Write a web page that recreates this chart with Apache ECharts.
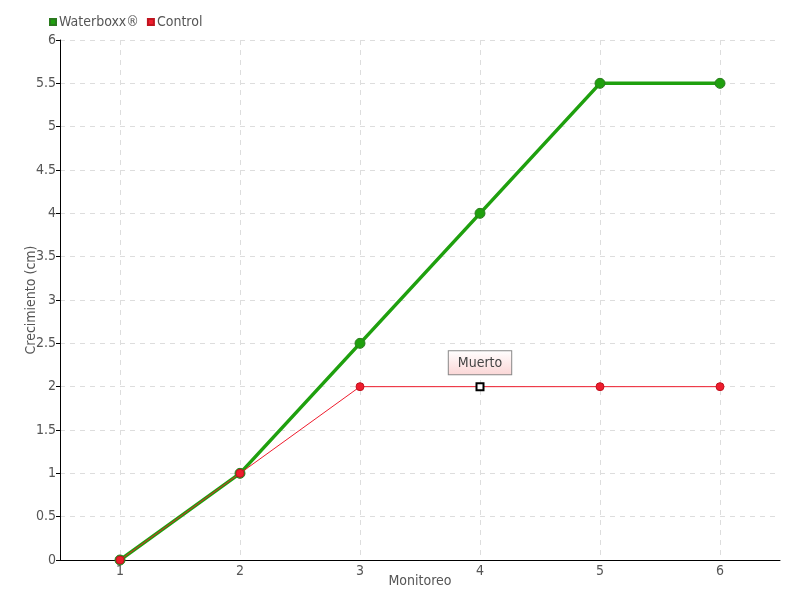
<!DOCTYPE html>
<html><head><meta charset="utf-8">
<script src="https://cdn.jsdelivr.net/npm/echarts@6/dist/echarts.min.js"></script>
<style>html,body{margin:0;padding:0;background:#fff}#c{width:800px;height:600px}</style>
</head><body><div id="c"></div>
<script>
const categories = ['1','2','3','4','5','6'];
const waterboxx = [0, 1, 2.5, 4, 5.5, 5.5];
const control = [0, 1, 2, 2, 2, 2];
const controlNoteIndex = 3;
const controlNote = 'Muerto';

const FONT = '"DejaVu Sans Condensed", "Liberation Sans Narrow", sans-serif';
const chart = echarts.init(document.getElementById('c'));
const controlData = control.map((v, i) => {
  if (i !== controlNoteIndex) return v;
  return {
    value: v,
    symbol: 'rect',
    symbolSize: 7,
    itemStyle: { color: '#ffffff', borderColor: '#000000', borderWidth: 2 },
    label: {
      show: true, position: 'top', distance: 8, formatter: controlNote,
      color: '#444', fontFamily: FONT, fontSize: 14,
      padding: [5, 9, 4, 9],
      borderColor: '#888', borderWidth: 1,
      backgroundColor: new echarts.graphic.LinearGradient(0, 0, 0, 1, [
        { offset: 0, color: '#ffffff' }, { offset: 1, color: '#fbd6d6' }])
    }
  };
});
chart.setOption({
  animation: false,
  textStyle: { fontFamily: FONT },
  legend: {
    left: 44, top: 10, itemWidth: 6, itemHeight: 6, itemGap: 8,
    icon: 'rect',
    textStyle: { fontFamily: FONT, fontSize: 14, color: '#555', padding: [0, 0, 0, -2] },
    data: ['Waterboxx®', 'Control']
  },
  grid: { left: 60, right: 20, top: 40, bottom: 40, containLabel: false, outerBoundsMode: 'none' },
  xAxis: {
    type: 'category', data: categories, boundaryGap: true,
    name: 'Monitoreo', nameLocation: 'middle', nameGap: 14, nameMoveOverlap: false,
    nameTextStyle: { fontFamily: FONT, fontSize: 14, color: '#555' },
    axisLine: { lineStyle: { color: '#000', width: 1 } },
    axisTick: { show: false, alignWithLabel: true },
    axisLabel: { color: '#555', fontSize: 14, fontFamily: FONT, margin: 4 },
    splitLine: { show: true, interval: 0, alignWithLabel: true, lineStyle: { color: '#ddd', type: [5, 5] } }
  },
  yAxis: {
    type: 'value', min: 0, max: 6, interval: 0.5,
    name: 'Crecimiento (cm)', nameLocation: 'middle', nameGap: 22, nameMoveOverlap: false,
    nameTextStyle: { fontFamily: FONT, fontSize: 14, color: '#555' },
    axisLine: { show: true, lineStyle: { color: '#000', width: 1 } },
    axisTick: { show: true, length: 4, lineStyle: { color: '#000' } },
    axisLabel: { color: '#555', fontSize: 14, fontFamily: FONT, margin: 4 },
    splitLine: { show: true, lineStyle: { color: '#ddd', type: [5, 5] } }
  },
  series: [
    {
      name: 'Waterboxx®', type: 'line', data: waterboxx,
      color: '#1fa00e',
      symbol: 'circle', symbolSize: 10,
      lineStyle: { width: 3.5, color: '#1fa00e' },
      itemStyle: { color: '#1fa00e', borderColor: '#2a7a1e', borderWidth: 1 },
      z: 2
    },
    {
      name: 'Control', type: 'line', data: controlData,
      color: '#ee1c2d',
      symbol: 'circle', symbolSize: 8,
      lineStyle: { width: 1, color: '#ee1c2d' },
      itemStyle: { color: '#ee1c2d', borderColor: '#c0141f', borderWidth: 1 },
      z: 3
    }
  ]
});
</script></body></html>
